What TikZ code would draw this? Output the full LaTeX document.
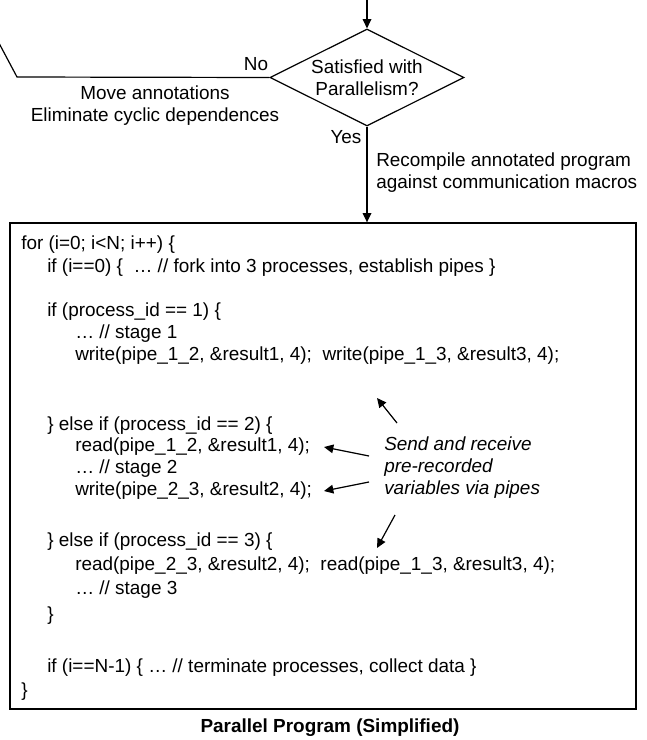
\documentclass[tikz,border=0pt]{standalone}
\usepackage{fontspec}
\setmainfont{Liberation Sans}
\usetikzlibrary{shapes.geometric, arrows.meta, positioning, fit, calc}

\newcommand{\figfont}{\fontsize{14.2pt}{16.5pt}\selectfont}

\begin{document}
\begin{tikzpicture}[
    x=0.75pt, y=-0.75pt,
    font=\figfont,
    decision/.style={diamond, draw=black, line width=0.9pt, inner sep=0pt, minimum width=145.5pt, minimum height=72.75pt},
    code/.style={anchor=west, inner sep=0pt, text height=1.5ex, text depth=0.25ex},
    lbl/.style={align=center, inner sep=0pt},
    arrow/.style={-{Triangle[length=7pt, width=6.5pt]}, line width=0.9pt},
    line/.style={line width=0.9pt}
]
\useasboundingbox (0,0) rectangle (647,740);

% Decision
\coordinate (entry) at (367,-4);
\node[decision] (sat) at (367,77.5) {};
\node[lbl] (sattxt) at (sat.center) {Satisfied with\\Parallelism?};
\node[lbl] (no) at (256,64) {No};
\node[lbl] (move) at (155,105.5) {Move annotations\\Eliminate cyclic dependences};
\node[lbl] (yes) at (346,137) {Yes};
\node[lbl, align=left, anchor=west] (recompile) at (376,172.5) {Recompile annotated program\\against communication macros};

% Program box
\coordinate (boxnw) at (10,223);
\coordinate (boxse) at (636,709);
\node[draw, line width=1pt, inner sep=0pt, fit=(boxnw)(boxse)] (prog) {};
\node[font=\figfont\bfseries] (caption) at (330,728) {Parallel Program (Simplified)};

% Code lines
\node[code] (forloop) at (21,245) {for (i=0; i<N; i++) \{};
\node[code] (ifzero) at (47,268) {if (i==0) \{~ … // fork into 3 processes, establish pipes \}};
\node[code] (ifone) at (47,312) {if (process\_id == 1) \{};
\node[code] (stageone) at (75,334) {… // stage 1};
\node[code] (writeone) at (75,356) {write(pipe\_1\_2, \&result1, 4);~ write(pipe\_1\_3, \&result3, 4);};
\node[code] (iftwo) at (47,426) {\} else if (process\_id == 2) \{};
\node[code] (readtwo) at (75,447) {read(pipe\_1\_2, \&result1, 4);};
\node[code] (stagetwo) at (75,469) {… // stage 2};
\node[code] (writetwo) at (75,491) {write(pipe\_2\_3, \&result2, 4);};
\node[code] (ifthree) at (47,542) {\} else if (process\_id == 3) \{};
\node[code] (readthree) at (75,566) {read(pipe\_2\_3, \&result2, 4);~ read(pipe\_1\_3, \&result3, 4);};
\node[code] (stagethree) at (75,590) {… // stage 3};
\node[code] (closethree) at (47,616) {\}};
\node[code] (iflast) at (47,668) {if (i==N-1) \{ … // terminate processes, collect data \}};
\node[code] (closeloop) at (21,692) {\}};

% Note on the pipes
\node[font=\figfont\itshape, align=left, anchor=west, inner sep=0pt] (sendnote) at (384,468) {Send and receive\\pre-recorded\\variables via pipes};
\coordinate (upfrom) at (397,423);
\coordinate (upto) at (377,398);
\coordinate (leftfrom) at (369,456);
\coordinate (leftto) at (324,447);
\coordinate (lowfrom) at (369,482);
\coordinate (lowto) at (324,491);
\coordinate (downfrom) at (395,515);
\coordinate (downto) at (377,548);
\coordinate (bend) at (17,77);
\coordinate (away) at (-4,37.5);

% Arrows
\draw[arrow] (entry) -- (sat.north);
\draw[line] (sat.west) -- (bend) -- (away);
\draw[arrow] (sat.south) -- (sat.south |- prog.north);
\draw[arrow] (upfrom) -- (upto);
\draw[arrow] (leftfrom) -- (leftto);
\draw[arrow] (lowfrom) -- (lowto);
\draw[arrow] (downfrom) -- (downto);

\end{tikzpicture}
\end{document}
